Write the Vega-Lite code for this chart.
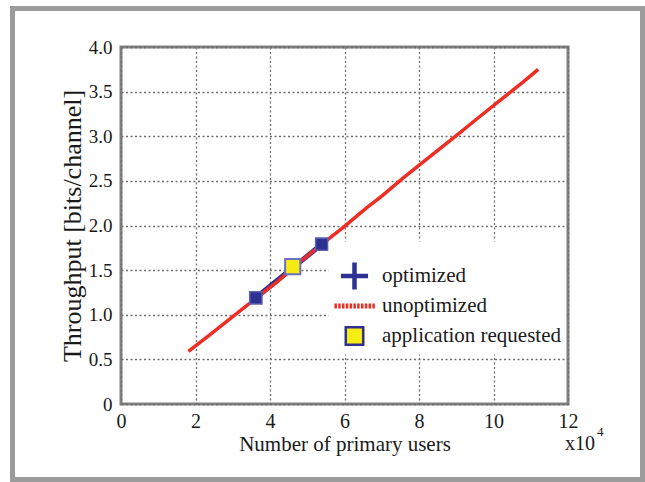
{
  "$schema": "https://vega.github.io/schema/vega-lite/v6.json",
  "width": 447,
  "height": 357,
  "autosize": {"type": "none"},
  "padding": {"left": 121, "top": 47, "right": 77, "bottom": 78},
  "background": "white",
  "config": {
    "font": "Liberation Serif",
    "view": {"stroke": "#808080", "strokeWidth": 3},
    "axis": {
      "domain": false,
      "ticks": false,
      "grid": true,
      "gridColor": "#6e6e6e",
      "gridDash": [2, 2.5],
      "gridWidth": 1.3,
      "labelFont": "Liberation Serif",
      "titleFont": "Liberation Serif",
      "labelColor": "#1a1a1a",
      "titleColor": "#1a1a1a",
      "titleFontWeight": "normal",
      "labelFlush": false,
      "labelOverlap": false,
      "labelBound": false
    },
    "legend": {
      "orient": "none",
      "legendX": 207.5,
      "legendY": 194.5,
      "padding": 4,
      "fillColor": "white",
      "strokeColor": null,
      "labelFont": "Liberation Serif",
      "labelFontSize": 21,
      "labelColor": "#1a1a1a",
      "labelOffset": 5.5,
      "labelLimit": 300,
      "symbolSize": 1681,
      "symbolStrokeWidth": 2.5,
      "symbolOpacity": 1,
      "clipHeight": 29,
      "rowPadding": 1,
      "titleFontSize": 10,
      "titlePadding": 6
    }
  },
  "datasets": {
    "unopt": [
      {"users": 1.81, "throughput": 0.59},
      {"users": 2.4, "throughput": 0.78},
      {"users": 3.0, "throughput": 0.98},
      {"users": 3.64, "throughput": 1.19},
      {"users": 4.2, "throughput": 1.37},
      {"users": 4.62, "throughput": 1.53},
      {"users": 5.42, "throughput": 1.8},
      {"users": 6.0, "throughput": 1.99},
      {"users": 6.6, "throughput": 2.2},
      {"users": 7.0, "throughput": 2.33},
      {"users": 7.57, "throughput": 2.53},
      {"users": 8.2, "throughput": 2.74},
      {"users": 9.01, "throughput": 3.01},
      {"users": 9.6, "throughput": 3.21},
      {"users": 10.26, "throughput": 3.43},
      {"users": 10.8, "throughput": 3.61},
      {"users": 11.2, "throughput": 3.75}
    ],
    "opt": [
      {"users": 3.62, "throughput": 1.19},
      {"users": 5.39, "throughput": 1.79}
    ],
    "app": [
      {"users": 4.61, "throughput": 1.54}
    ],
    "legendItems": []
  },
  "encoding": {
    "x": {
      "field": "users",
      "type": "quantitative",
      "scale": {"domain": [0, 12], "nice": false, "zero": false},
      "axis": {
        "title": "Number of primary users",
        "values": [0, 2, 4, 6, 8, 10, 12],
        "labelFont": "Liberation Serif",
        "titleFont": "Liberation Serif",
        "labelFontSize": 20,
        "labelPadding": 7,
        "titleFontSize": 21,
        "titlePadding": 2
      }
    },
    "y": {
      "field": "throughput",
      "type": "quantitative",
      "scale": {"domain": [0, 4], "nice": false, "zero": false},
      "axis": {
        "title": "Throughput [bits/channel]",
        "values": [0, 0.5, 1, 1.5, 2, 2.5, 3, 3.5, 4],
        "labelExpr": "datum.value == 0 ? '0' : format(datum.value, '.1f')",
        "labelFont": "Liberation Serif",
        "titleFont": "Liberation Serif",
        "labelFontSize": 19,
        "labelPadding": 9,
        "titleFontSize": 26,
        "titlePadding": 3
      }
    }
  },
  "layer": [
    {
      "data": {"name": "app"},
      "mark": {"type": "rect", "filled": false, "stroke": "#9b9b9b", "strokeWidth": 5, "clip": false},
      "encoding": {
        "x": {"datum": -2.913, "type": "quantitative", "scale": {"domain": [0, 12], "nice": false, "zero": false}},
        "x2": {"datum": 14.0},
        "y": {"datum": 4.431, "type": "quantitative", "scale": {"domain": [0, 4], "nice": false, "zero": false}},
        "y2": {"datum": -0.846}
      }
    },
    {
      "data": {"name": "opt"},
      "mark": {"type": "line", "color": "#2e3192", "strokeWidth": 5}
    },
    {
      "data": {"name": "unopt"},
      "mark": {"type": "line", "color": "#ee2d24", "strokeWidth": 3.5}
    },
    {
      "data": {"name": "opt"},
      "mark": {"type": "point", "shape": "square", "filled": true, "size": 150, "fill": "#2e3192", "stroke": "#5a5fb0", "strokeWidth": 1.5, "opacity": 1}
    },
    {
      "data": {"name": "app"},
      "mark": {"type": "point", "shape": "square", "filled": true, "size": 230, "fill": "#f6ec13", "stroke": "#6a6fbf", "strokeWidth": 2, "opacity": 1}
    },
    {
      "data": {"name": "legendItems"},
      "mark": {"type": "point", "filled": true, "opacity": 1},
      "encoding": {
        "x": {"datum": 0, "type": "quantitative", "scale": {"domain": [0, 12], "nice": false, "zero": false}},
        "y": {"datum": 0, "type": "quantitative", "scale": {"domain": [0, 4], "nice": false, "zero": false}},
        "shape": {
          "field": "series",
          "type": "nominal",
          "scale": {
            "domain": ["optimized", "unoptimized", "application requested"],
            "range": [
              "M-0.049,-0.6H0.049V-0.049H0.6V0.049H0.049V0.6H-0.049V0.049H-0.6V-0.049H-0.049Z",
              "M-0.98,-0.122h0.122v0.244h-0.122zM-0.795,-0.122h0.122v0.244h-0.122zM-0.61,-0.122h0.122v0.244h-0.122zM-0.425,-0.122h0.122v0.244h-0.122zM-0.24,-0.122h0.122v0.244h-0.122zM-0.055,-0.122h0.122v0.244h-0.122zM0.13,-0.122h0.122v0.244h-0.122zM0.315,-0.122h0.122v0.244h-0.122zM0.5,-0.122h0.122v0.244h-0.122zM0.685,-0.122h0.122v0.244h-0.122zM0.87,-0.122h0.122v0.244h-0.122z",
              "M-0.427,-0.427H0.427V0.427H-0.427Z"
            ]
          },
          "legend": {"title": " ", "labelFont": "Liberation Serif", "symbolOpacity": 1}
        },
        "fill": {
          "field": "series",
          "type": "nominal",
          "scale": {
            "domain": ["optimized", "unoptimized", "application requested"],
            "range": ["#2e3192", "#ee2d24", "#f6ec13"]
          },
          "legend": {"title": " ", "labelFont": "Liberation Serif", "symbolOpacity": 1}
        },
        "stroke": {
          "field": "series",
          "type": "nominal",
          "scale": {
            "domain": ["optimized", "unoptimized", "application requested"],
            "range": ["#2e3192", "transparent", "#2e3192"]
          },
          "legend": {"title": " ", "labelFont": "Liberation Serif", "symbolOpacity": 1}
        }
      }
    },
    {
      "data": {"name": "app"},
      "mark": {"type": "text", "text": "x10", "font": "Liberation Serif", "fontSize": 20, "align": "left", "baseline": "alphabetic", "dx": -3, "dy": 46, "color": "#1a1a1a", "clip": false},
      "encoding": {
        "x": {"datum": 12, "type": "quantitative", "scale": {"domain": [0, 12], "nice": false, "zero": false}},
        "y": {"datum": 0, "type": "quantitative", "scale": {"domain": [0, 4], "nice": false, "zero": false}}
      }
    },
    {
      "data": {"name": "app"},
      "mark": {"type": "text", "text": "4", "font": "Liberation Serif", "fontSize": 13, "align": "left", "baseline": "alphabetic", "dx": 29, "dy": 32, "color": "#1a1a1a", "clip": false},
      "encoding": {
        "x": {"datum": 12, "type": "quantitative", "scale": {"domain": [0, 12], "nice": false, "zero": false}},
        "y": {"datum": 0, "type": "quantitative", "scale": {"domain": [0, 4], "nice": false, "zero": false}}
      }
    }
  ]
}
